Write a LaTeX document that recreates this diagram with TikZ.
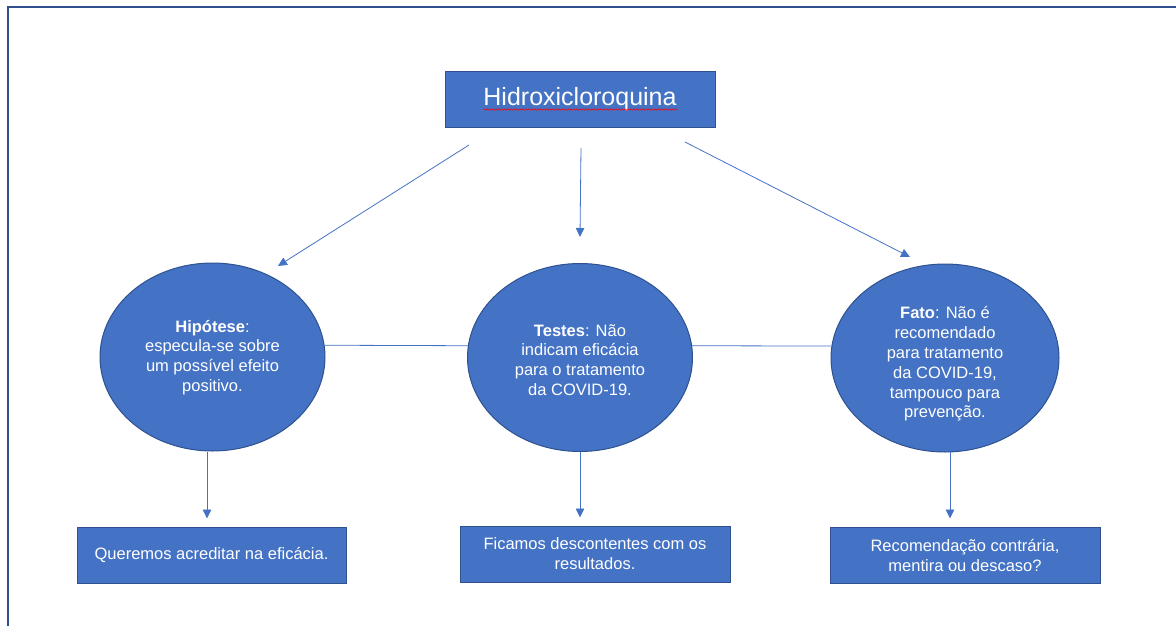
\documentclass[tikz,border=0pt]{standalone}
\usepackage{fontspec}
\setmainfont{Liberation Sans}
\usetikzlibrary{arrows.meta,decorations.pathmorphing,shapes.geometric}
\definecolor{fillblue}{HTML}{4472C4}
\definecolor{edgeblue}{HTML}{2F528F}
\definecolor{lineblue}{HTML}{4472C4}
\tikzset{
  boxnode/.style={draw=edgeblue, line width=1pt, fill=fillblue, text=white, inner sep=0pt},
  ellnode/.style={ellipse, draw=edgeblue, line width=1pt, fill=fillblue, inner sep=0pt,
     minimum width=225pt, minimum height=188pt},
  etxt/.style={text=white, align=center, inner sep=0pt, font=\fontsize{16.5}{19.8}\selectfont},
  arr/.style={draw=lineblue, line width=0.8pt, -{Triangle[length=9pt,width=8.5pt]}},
  plainline/.style={draw=lineblue, line width=0.8pt},
  frameline/.style={draw=edgeblue, line width=2pt},
  btxt/.style={align=center, font=\fontsize{16.5}{20}\selectfont}
}
\begin{document}
\begin{tikzpicture}[x=1pt,y=-1pt]
\useasboundingbox (0,0) rectangle (1176,625);
% frame
\draw[frameline] (7.5,626) -- (7.5,6.5) -- (1177,6.5);
% top box
\node[boxnode, minimum width=270pt, minimum height=56pt, font=\fontsize{25}{30}\selectfont] (top) at (580,99) {Hidroxicloroquina};
\coordinate (wl) at (483,109.5);
\coordinate (wr) at (678,109.5);
\draw[red, line width=0.5pt, decorate, decoration={snake, amplitude=0.8pt, segment length=3pt}] (wl) -- (wr);
% ellipses
\node[ellnode] (e1) at (212.5,357) {};
\node[ellnode] (e2) at (580,357.5) {};
\node[ellnode, minimum width=228pt] (e3) at (945,358) {};
\node[etxt] (e1t) at (212.5,357.5) {\textbf{Hipótese}:\\especula-se sobre\\um possível efeito\\positivo.};
\node[etxt] (e2t) at (580,360) {\textbf{Testes}: Não\\indicam eficácia\\para o tratamento\\da COVID-19.};
\node[etxt] (e3t) at (945,364) {\textbf{Fato}: Não é\\recomendado\\para tratamento\\da COVID-19,\\tampouco para\\prevenção.};
% bottom boxes
\node[boxnode, btxt, minimum width=269pt, minimum height=56pt] (b1) at (211.5,555) {\vphantom{Ag}Queremos acreditar na eficácia.};
\node[boxnode, btxt, minimum width=270pt, minimum height=56pt] (b2) at (595,554) {Ficamos descontentes com os\\resultados.};
\node[boxnode, btxt, minimum width=270pt, minimum height=56pt] (b3) at (965,555) {Recomendação contrária,\\mentira ou descaso?};
% top arrows
\coordinate (s1) at (469,145);
\coordinate (t1) at (278,266);
\coordinate (s2) at (581,148);
\coordinate (t2) at (580,237);
\coordinate (s3) at (685,142);
\coordinate (t3) at (910,257);
\draw[arr] (s1) -- (t1);
\draw[arr] (s2) -- (t2);
\draw[arr] (s3) -- (t3);
% horizontal links
\draw[plainline] (e1.6) -- (e2.174);
\draw[plainline] (e2.6) -- (e3.174);
% down arrows
\coordinate (d1) at (207,452);
\coordinate (d3) at (950,452);
\draw[arr, shorten >=8pt] (d1) -- (d1 |- b1.north);
\draw[arr, shorten >=8pt] (e2.south) -- (e2.south |- b2.north);
\draw[arr, shorten >=8pt] (d3) -- (d3 |- b3.north);
\end{tikzpicture}
\end{document}
